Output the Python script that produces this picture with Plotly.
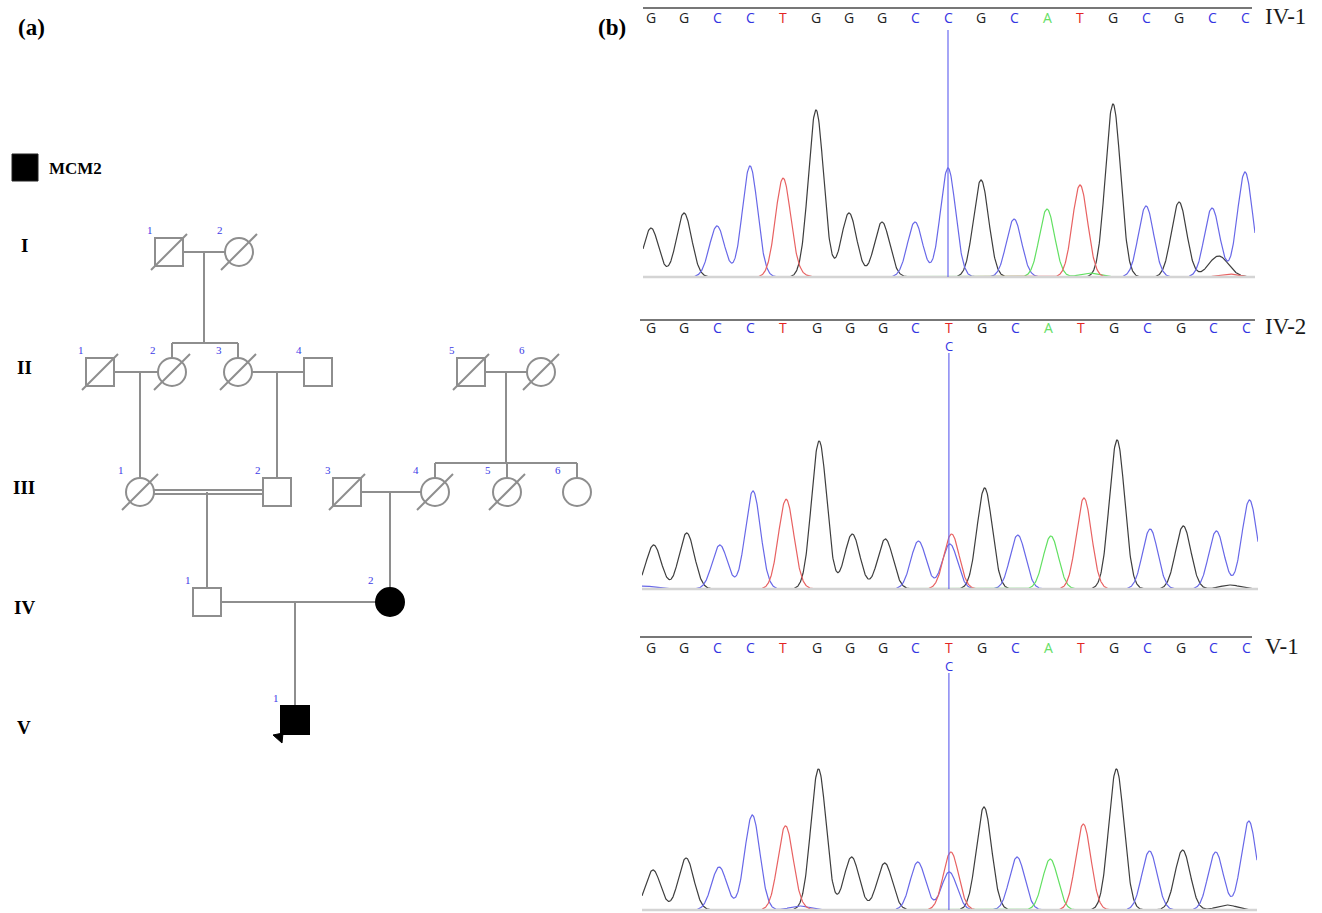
import numpy as np
import plotly.graph_objects as go

# ======================= DATA =======================
# ---- pedigree (a) ----
ped_ids      = ["I-1", "I-2", "II-1", "II-2", "II-3", "II-4", "II-5", "II-6",
                "III-1", "III-2", "III-3", "III-4", "III-5", "III-6", "IV-1", "IV-2", "V-1"]
ped_gen      = ["I", "I", "II", "II", "II", "II", "II", "II",
                "III", "III", "III", "III", "III", "III", "IV", "IV", "V"]
ped_num      = ["1", "2", "1", "2", "3", "4", "5", "6", "1", "2", "3", "4", "5", "6", "1", "2", "1"]
ped_sex      = ["M", "F", "M", "F", "F", "M", "M", "F", "F", "M", "M", "F", "F", "F", "M", "F", "M"]
ped_deceased = [1, 1, 1, 1, 1, 0, 1, 1, 1, 0, 1, 1, 1, 0, 0, 0, 0]
ped_affected = [0, 0, 0, 0, 0, 0, 0, 0, 0, 0, 0, 0, 0, 0, 0, 1, 1]
proband = "V-1"
couples = [("I-1", "I-2"), ("II-1", "II-2"), ("II-3", "II-4"), ("II-5", "II-6"),
           ("III-1", "III-2"), ("III-3", "III-4"), ("IV-1", "IV-2")]
consanguineous = [("III-1", "III-2")]
offspring = [["II-2", "II-3"], ["III-1"], ["III-2"], ["III-4", "III-5", "III-6"],
             ["IV-1"], ["IV-2"], ["V-1"]]
generations = ["I", "II", "III", "IV", "V"]
legend_text = "MCM2"

# ---- chromatograms (b) ----
samples = ["IV-1", "IV-2", "V-1"]
bases_IV1 = list("GGCCTGGGCCGCATGCGCC")
bases_IV2 = list("GGCCTGGGCTGCATGCGCC")
bases_V1 = list("GGCCTGGGCTGCATGCGCC")
heights_IV1 = [49, 64, 51, 111, 97, 167, 64, 55, 55, 109, 97, 58, 68, 92, 173, 71, 75, 69, 105]
heights_IV2 = [44, 56, 44, 98, 87, 148, 55, 50, 48, 55, 101, 54, 53, 91, 149, 60, 63, 58, 89]
heights_V1 = [40, 52, 43, 95, 82, 141, 53, 47, 48, 58, 103, 53, 51, 86, 141, 59, 60, 58, 89]
het_index = 9
het_base = ["", "C", "C"]
het_height = [0, 45, 38]
minor_pos_IV1 = [17.2, 13.3, 4.3, 17.5]
minor_base_IV1 = ["G", "A", "T", "T"]
minor_h_IV1 = [21, 4, 3, 3]
minor_pos_IV2 = [17.5, 4.2, -0.2]
minor_base_IV2 = ["G", "T", "C"]
minor_h_IV2 = [4, 3, 3]
minor_pos_V1 = [17.4, 4.5, 4.3]
minor_base_V1 = ["G", "C", "T"]
minor_h_V1 = [5, 4, 3]

# ======================= LAYOUT / STYLE =======================
W, H = 1322, 913
GRAY = "#8e8e8e"
NUMBLUE = "#3c3ce6"
SERIF = "Liberation Serif"
HALF = 14          # half size of pedigree symbols
SLASH = 18
pos_x = {"I-1": 169, "I-2": 239, "II-1": 100, "II-2": 172, "II-3": 238, "II-4": 318,
         "II-5": 471, "II-6": 541, "III-1": 140, "III-2": 277, "III-3": 347,
         "III-4": 435, "III-5": 507, "III-6": 577, "IV-1": 207, "IV-2": 390, "V-1": 295}
gen_y = {"I": 252, "II": 372, "III": 492, "IV": 602, "V": 720}
gen_label_y = {"I": 245, "II": 367, "III": 487, "IV": 607, "V": 727}
gen_label_x = 24

trace_col = {"G": "#3e3e3e", "C": "#6868e8", "T": "#e86262", "A": "#62e062"}
letter_col = {"G": "#222222", "C": "#3434e2", "T": "#e22424", "A": "#66e066"}
LETTER_FONT = "Open Sans"
LETTER_SIZE = 14
HET_SIZE = 13
SIGMA = 0.23
# per panel: x-domain px, first-letter px, spacing px, baseline px, y-domain px, text rows px
panels = [
    dict(dom=(643, 1255), l0=651, sp=33.0, base=277, ytop=3, ybot=280, rule=8, rule_x=(643, 1252),
         letters=18, het=None, vtop=30, label=17, shift=0.0),
    dict(dom=(642, 1258), l0=651, sp=33.1, base=589, ytop=315, ybot=592, rule=320, rule_x=(640, 1255),
         letters=327, het=346, vtop=353, label=326, shift=0.08),
    dict(dom=(642, 1257), l0=651, sp=33.1, base=910, ytop=633, ybot=913, rule=637, rule_x=(640, 1252),
         letters=647, het=666, vtop=673, label=646, shift=0.06),
]

fig = go.Figure()
shapes = []
annotations = []

# ======================= PEDIGREE =======================
idx = {pid: i for i, pid in enumerate(ped_ids)}


def cxy(pid):
    return pos_x[pid], gen_y[ped_gen[idx[pid]]]


def line(x0, y0, x1, y1, color=GRAY, width=2, xref="x", yref="y"):
    shapes.append(dict(type="line", x0=x0, y0=y0, x1=x1, y1=y1, xref=xref, yref=yref,
                       line=dict(color=color, width=width)))


for (a, b), kids in zip(couples, offspring):
    xa, ya = cxy(a)
    xb, yb = cxy(b)
    left, right = (xa, xb) if xa < xb else (xb, xa)
    if (a, b) in consanguineous:
        line(left + HALF, ya - 2, right - HALF, ya - 2)
        line(left + HALF, ya + 2, right - HALF, ya + 2)
    else:
        line(left + HALF, ya, right - HALF, ya)
    mid = (left + right) / 2
    if len(kids) == 1:
        kx, ky = cxy(kids[0])
        line(kx, ya, kx, ky - HALF)
    else:
        kxs = [cxy(k)[0] for k in kids]
        ky = cxy(kids[0])[1]
        sib_y = ky - 29
        line(mid, ya, mid, sib_y)
        line(min(kxs), sib_y, max(kxs), sib_y)
        for kx in kxs:
            line(kx, sib_y, kx, ky - HALF)

for i, pid in enumerate(ped_ids):
    cx, cy = cxy(pid)
    aff = ped_affected[i] == 1
    fill = "black" if aff else "white"
    lcol = "black" if aff else GRAY
    shapes.append(dict(type="rect" if ped_sex[i] == "M" else "circle",
                       x0=cx - HALF, x1=cx + HALF, y0=cy - HALF, y1=cy + HALF,
                       xref="x", yref="y", fillcolor=fill, line=dict(color=lcol, width=2)))
    if ped_deceased[i]:
        line(cx - SLASH, cy + SLASH, cx + SLASH, cy - SLASH)
    annotations.append(dict(x=cx - 19, y=cy - 22, xref="x", yref="y", text=ped_num[i],
                            showarrow=False, font=dict(family=SERIF, size=11, color=NUMBLUE)))
    if pid == proband:
        shapes.append(dict(type="path", xref="x", yref="y",
                           path=f"M {cx-22} {cy+15} L {cx-12} {cy+13} L {cx-13} {cy+23} Z",
                           fillcolor="black", line=dict(color="black", width=1)))

for g in generations:
    annotations.append(dict(x=gen_label_x, y=gen_label_y[g], xref="x", yref="y", text=f"<b>{g}</b>",
                            showarrow=False, font=dict(family=SERIF, size=19, color="black")))

# legend square
shapes.append(dict(type="rect", x0=12, x1=38, y0=154, y1=181, xref="x", yref="y",
                   fillcolor="black", line=dict(color="#222", width=1)))
annotations.append(dict(x=47, y=168, xref="x", yref="y", text=f"<b>{legend_text}</b>",
                        xanchor="left", showarrow=False, font=dict(family=SERIF, size=17, color="black")))

# panel labels
for lab, px in [("(a)", 16), ("(b)", 596)]:
    annotations.append(dict(x=px / W, y=1 - 27 / H, xref="paper", yref="paper", text=f"<b>{lab}</b>",
                            xanchor="left", yanchor="middle", showarrow=False,
                            font=dict(family=SERIF, size=23, color="black")))

# ======================= CHROMATOGRAMS =======================
all_bases = [bases_IV1, bases_IV2, bases_V1]
all_heights = [heights_IV1, heights_IV2, heights_V1]
all_minor = [(minor_pos_IV1, minor_base_IV1, minor_h_IV1),
             (minor_pos_IV2, minor_base_IV2, minor_h_IV2),
             (minor_pos_V1, minor_base_V1, minor_h_V1)]

layout_axes = {}
for k, (name, bases, hts, minor, P) in enumerate(zip(samples, all_bases, all_heights, all_minor, panels)):
    n = k + 2
    xa, ya = f"x{n}", f"y{n}"
    xr = [(P["dom"][0] - P["l0"]) / P["sp"], (P["dom"][1] - P["l0"]) / P["sp"]]
    yr = [-(P["ybot"] - P["base"]), P["base"] - P["ytop"]]
    layout_axes[f"xaxis{n}"] = dict(domain=[P["dom"][0] / W, P["dom"][1] / W], range=xr,
                                    anchor=ya, visible=False, fixedrange=True)
    layout_axes[f"yaxis{n}"] = dict(domain=[1 - P["ybot"] / H, 1 - P["ytop"] / H], range=yr,
                                    anchor=xa, visible=False, fixedrange=True)
    xs = np.linspace(xr[0], xr[1], 1600)
    curves = {b: np.zeros_like(xs) for b in "GCAT"}
    for i, (b, h) in enumerate(zip(bases, hts)):
        curves[b] += h * np.exp(-(xs - i - P["shift"]) ** 2 / (2 * SIGMA ** 2))
    if het_base[k]:
        curves[het_base[k]] += het_height[k] * np.exp(-(xs - het_index - P["shift"] + 0.05) ** 2 / (2 * SIGMA ** 2))
    for mp, mb, mh in zip(*minor):
        curves[mb] += mh * np.exp(-(xs - mp) ** 2 / (2 * (SIGMA * 1.3) ** 2))
    for b in ["G", "C", "A", "T"]:
        fig.add_trace(go.Scatter(x=xs, y=curves[b], mode="lines", xaxis=xa, yaxis=ya,
                                 line=dict(color=trace_col[b], width=1.2), hoverinfo="skip",
                                 showlegend=False))
    # baseline
    shapes.append(dict(type="line", xref="paper", yref=ya, x0=P["dom"][0] / W, x1=P["dom"][1] / W,
                       y0=0, y1=0, line=dict(color="#d4d4d4", width=2.5), layer="above"))
    # top rule
    ry = P["base"] - P["rule"]
    shapes.append(dict(type="line", xref="paper", yref=ya, x0=P["rule_x"][0] / W, x1=P["rule_x"][1] / W,
                       y0=ry, y1=ry, line=dict(color="#4a4a4a", width=1.6)))
    # cursor line
    shapes.append(dict(type="line", xref=xa, yref=ya, x0=het_index, x1=het_index, y0=0,
                       y1=P["base"] - P["vtop"], line=dict(color="#6a6af0", width=1.2), layer="above"))
    # base calls
    ly = P["base"] - P["letters"]
    for i, b in enumerate(bases):
        annotations.append(dict(x=i, y=ly, xref=xa, yref=ya, text=b, showarrow=False,
                                yanchor="middle", borderpad=0,
                                font=dict(family=LETTER_FONT, size=LETTER_SIZE, color=letter_col[b])))
    if P["het"] is not None and het_base[k]:
        annotations.append(dict(x=het_index, y=P["base"] - P["het"], xref=xa, yref=ya, text=het_base[k],
                                showarrow=False, yanchor="middle", borderpad=0,
                                font=dict(family=LETTER_FONT, size=HET_SIZE,
                                          color=letter_col[het_base[k]])))
    annotations.append(dict(x=1263 / W, y=P["base"] - P["label"], xref="paper", yref=ya, text=name,
                            xanchor="left", showarrow=False,
                            font=dict(family=SERIF, size=23, color="#1a1a1a")))

fig.update_layout(
    width=W, height=H, margin=dict(l=0, r=0, t=0, b=0),
    paper_bgcolor="white", plot_bgcolor="white", showlegend=False,
    xaxis=dict(domain=[0, 620 / W], range=[0, 620], visible=False, fixedrange=True),
    yaxis=dict(domain=[0, 1], range=[H, 0], visible=False, fixedrange=True),
    shapes=shapes, annotations=annotations, **layout_axes,
)

fig.write_html("out.html", config={"displayModeBar": False},
               post_script="document.body.style.margin='0';")
